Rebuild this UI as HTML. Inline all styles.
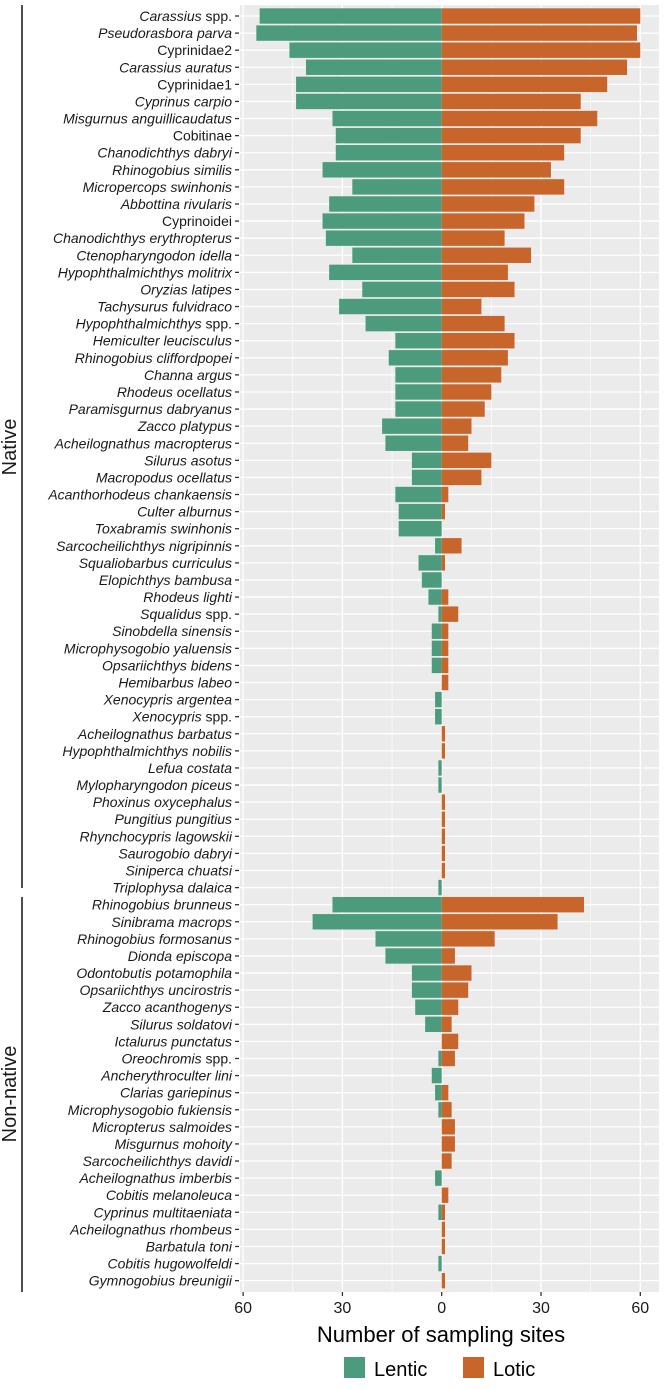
<!DOCTYPE html>
<html><head><meta charset="utf-8"><style>
body{margin:0;background:#fff;}
svg{display:block;font-family:"Liberation Sans",sans-serif;}
</style></head><body>
<svg id="chart" width="668" height="1390" viewBox="0 0 668 1390" xmlns="http://www.w3.org/2000/svg">
<rect x="240" y="5" width="419" height="1287" fill="#ebebeb"/>
<g id="grid"></g><g id="bars"></g><g id="labels"></g><g id="xaxis"></g>
<line x1="22" y1="5" x2="22" y2="888" stroke="#4d4d4d" stroke-width="2"/>
<text transform="translate(16,447) rotate(-90)" text-anchor="middle" font-size="20" fill="#1a1a1a">Native</text>
<line x1="22" y1="897" x2="22" y2="1292" stroke="#4d4d4d" stroke-width="2"/>
<text transform="translate(16,1094) rotate(-90)" text-anchor="middle" font-size="20" fill="#1a1a1a">Non-native</text>
<text x="441" y="1342" text-anchor="middle" font-size="22" fill="#000">Number of sampling sites</text>
<g>
<rect x="344" y="1357" width="21" height="21" fill="#4c9b7c"/>
<text x="374" y="1376" font-size="20">Lentic</text>
<rect x="463" y="1357" width="21" height="21" fill="#c8652a"/>
<text x="493" y="1376" font-size="20">Lotic</text>
</g>
</svg>
<script>
const species=["Carassius spp.","Pseudorasbora parva","Cyprinidae2","Carassius auratus","Cyprinidae1","Cyprinus carpio","Misgurnus anguillicaudatus","Cobitinae","Chanodichthys dabryi","Rhinogobius similis","Micropercops swinhonis","Abbottina rivularis","Cyprinoidei","Chanodichthys erythropterus","Ctenopharyngodon idella","Hypophthalmichthys molitrix","Oryzias latipes","Tachysurus fulvidraco","Hypophthalmichthys spp.","Hemiculter leucisculus","Rhinogobius cliffordpopei","Channa argus","Rhodeus ocellatus","Paramisgurnus dabryanus","Zacco platypus","Acheilognathus macropterus","Silurus asotus","Macropodus ocellatus","Acanthorhodeus chankaensis","Culter alburnus","Toxabramis swinhonis","Sarcocheilichthys nigripinnis","Squaliobarbus curriculus","Elopichthys bambusa","Rhodeus lighti","Squalidus spp.","Sinobdella sinensis","Microphysogobio yaluensis","Opsariichthys bidens","Hemibarbus labeo","Xenocypris argentea","Xenocypris spp.","Acheilognathus barbatus","Hypophthalmichthys nobilis","Lefua costata","Mylopharyngodon piceus","Phoxinus oxycephalus","Pungitius pungitius","Rhynchocypris lagowskii","Saurogobio dabryi","Siniperca chuatsi","Triplophysa dalaica","Rhinogobius brunneus","Sinibrama macrops","Rhinogobius formosanus","Dionda episcopa","Odontobutis potamophila","Opsariichthys uncirostris","Zacco acanthogenys","Silurus soldatovi","Ictalurus punctatus","Oreochromis spp.","Ancherythroculter lini","Clarias gariepinus","Microphysogobio fukiensis","Micropterus salmoides","Misgurnus mohoity","Sarcocheilichthys davidi","Acheilognathus imberbis","Cobitis melanoleuca","Cyprinus multitaeniata","Acheilognathus rhombeus","Barbatula toni","Cobitis hugowolfeldi","Gymnogobius breunigii"];
const lentic=[55,56,46,41,44,44,33,32,32,36,27,34,36,35,27,34,24,31,23,14,16,14,14,14,18,17,9,9,14,13,13,2,7,6,4,1,3,3,3,0,2,2,0,0,1,1,0,0,0,0,0,1,33,39,20,17,9,9,8,5,0,1,3,2,1,0,0,0,2,0,1,0,0,1,0];
const lotic=[60,59,60,56,50,42,47,42,37,33,37,28,25,19,27,20,22,12,19,22,20,18,15,13,9,8,15,12,2,1,0,6,1,0,2,5,2,2,2,2,0,0,1,1,0,0,1,1,1,1,1,0,43,35,16,4,9,8,5,3,5,4,0,2,3,4,4,3,0,2,1,1,1,0,1];
const xTicks=[-60,-30,0,30,60];
const xTickLabels=["60","30","0","30","60"];
const plain=["Cyprinidae2","Cyprinidae1","Cobitinae","Cyprinoidei"];
const NS="http://www.w3.org/2000/svg";
const x=v=>441.7+v*3.31;
const y=i=>16+i*17.09;
const bw=15.4;
function mk(tag,attrs,parent){const e=document.createElementNS(NS,tag);for(const k in attrs)e.setAttribute(k,attrs[k]);parent.appendChild(e);return e;}
const grid=document.getElementById('grid'),bars=document.getElementById('bars'),labels=document.getElementById('labels'),xa=document.getElementById('xaxis');
[-45,-15,15,45].forEach(v=>{const l=mk('line',{x1:x(v),x2:x(v),y1:5,y2:1292,stroke:'#fff','stroke-width':0.6},grid);

});
xTicks.forEach((v,k)=>{const l=mk('line',{x1:x(v),x2:x(v),y1:5,y2:1292,stroke:'#fff','stroke-width':1.3},grid);


const t=mk('line',{x1:x(v),x2:x(v),y1:1292,y2:1296,stroke:'#333','stroke-width':1.3},xa);


const tx=mk('text',{x:x(v),y:1313,'text-anchor':'middle','font-size':16,fill:'#1a1a1a'},xa);tx.textContent=xTickLabels[k];

});
species.forEach((s,i)=>{
const g=mk('line',{x1:240,x2:659,y1:y(i),y2:y(i),stroke:'#fff','stroke-width':1.3},grid);


if(lentic[i]>0){const r=mk('rect',{x:x(-lentic[i]),y:y(i)-bw/2,width:x(0)-x(-lentic[i]),height:bw,fill:'#4c9b7c'},bars);

}
if(lotic[i]>0){const r=mk('rect',{x:x(0),y:y(i)-bw/2,width:x(lotic[i])-x(0),height:bw,fill:'#c8652a'},bars);

}
const tk=mk('line',{x1:235,x2:239,y1:y(i),y2:y(i),stroke:'#333','stroke-width':1.3},labels);


const t=mk('text',{x:232,y:y(i)+5,'text-anchor':'end','font-size':14,fill:'#1a1a1a'},labels);


if(plain.includes(s)){t.textContent=s;}
else if(s.endsWith(' spp.')){const a=mk('tspan',{'font-style':'italic'},t);a.textContent=s.replace(' spp.','');const b=mk('tspan',{},t);b.textContent=' spp.';}
else{t.setAttribute('font-style','italic');t.textContent=s;}
});
</script>
</body></html>
